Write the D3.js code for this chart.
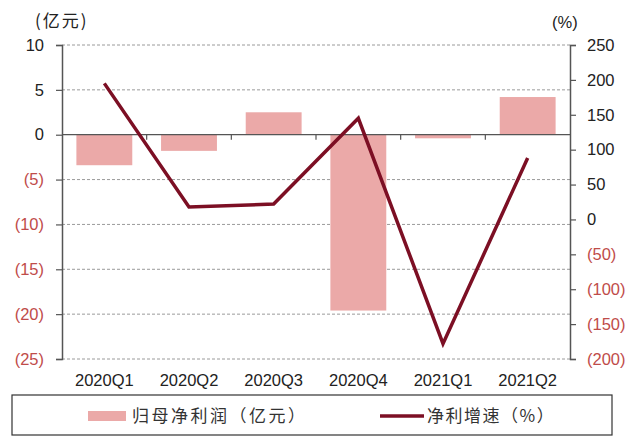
<!DOCTYPE html>
<html>
<head>
<meta charset="utf-8">
<script src="https://cdn.jsdelivr.net/npm/d3@7/dist/d3.min.js"></script>
<style>
  html, body { margin: 0; padding: 0; background: #fff; }
  svg { display: block; }
</style>
</head>
<body>
<svg id="chart" width="639" height="441"></svg>
<script>
// Quarterly data
const categories = ["2020Q1", "2020Q2", "2020Q3", "2020Q4", "2021Q1", "2021Q2"];
const netProfit = [-3.4, -1.8, 2.5, -19.6, -0.4, 4.2];      // 归母净利润 (亿元)
const growthRate = [195, 18, 22, 145, -178, 88];            // 净利增速 (%)
const leftTicks = [10, 5, 0, -5, -10, -15, -20, -25];
const rightTicks = [250, 200, 150, 100, 50, 0, -50, -100, -150, -200];
const seriesNames = ["归母净利润（亿元）", "净利增速（%）"];

const barColor = "#eba9a8";
const lineColor = "#7c0f24";
const negColor = "#bf4c4a";
const latin = "'Liberation Sans', Arial, sans-serif";
const cjk = "'Noto Sans CJK SC', sans-serif";

const svg = d3.select("#chart");
const plotL = 62, plotR = 570, plotT = 45, plotB = 359;

const x = d3.scaleBand().domain(categories).range([plotL, plotR]).paddingInner(0.34).paddingOuter(0.17);
const xTicks = d3.scaleBand().domain(categories).range([plotL, plotR]);
const yL = d3.scaleLinear().domain([-25, 10]).range([plotB, plotT]);
const yR = d3.scaleLinear().domain([-200, 250]).range([plotB, plotT]);

const fmt = v => v < 0 ? `(${Math.abs(v)})` : `${v}`;

// dashed gridlines
svg.append("g").selectAll("line").data(leftTicks.filter(v => v !== 0)).join("line")
  .attr("x1", plotL).attr("x2", plotR)
  .attr("y1", d => yL(d)).attr("y2", d => yL(d))
  .attr("stroke", "#9a9a9a").attr("stroke-width", 1).attr("stroke-dasharray", "3,2");

// bars
svg.append("g").selectAll("rect").data(netProfit).join("rect")
  .attr("x", (d, i) => x(categories[i]))
  .attr("width", x.bandwidth())
  .attr("y", d => yL(Math.max(0, d)))
  .attr("height", d => Math.abs(yL(d) - yL(0)))
  .attr("fill", barColor);

// zero baseline with category ticks
svg.append("line").attr("x1", plotL).attr("x2", plotR)
  .attr("y1", yL(0)).attr("y2", yL(0)).attr("stroke", "#555").attr("stroke-width", 1.2);
svg.append("g").selectAll("line").data(categories.slice(1)).join("line")
  .attr("x1", d => xTicks(d)).attr("x2", d => xTicks(d))
  .attr("y1", yL(0)).attr("y2", yL(0) + 5)
  .attr("stroke", "#555").attr("stroke-width", 1.2);

// left axis
const gL = svg.append("g").attr("transform", `translate(${plotL},0)`)
  .call(d3.axisLeft(yL).tickValues(leftTicks).tickSize(6).tickPadding(12).tickFormat(fmt));
gL.select(".domain").attr("stroke", "#555").attr("stroke-width", 1.5);
gL.selectAll(".tick line").attr("stroke", "#555").attr("stroke-width", 1.2);
gL.selectAll(".tick text").attr("font-family", latin).attr("font-size", 16.5)
  .attr("fill", d => d < 0 ? negColor : "#222");

// right axis
const gR = svg.append("g").attr("transform", `translate(${plotR},0)`)
  .call(d3.axisRight(yR).tickValues(rightTicks).tickSize(6).tickPadding(11).tickFormat(fmt));
gR.select(".domain").attr("stroke", "#555").attr("stroke-width", 1.5);
gR.selectAll(".tick line").attr("stroke", "#555").attr("stroke-width", 1.2);
gR.selectAll(".tick text").attr("font-family", latin).attr("font-size", 16.5)
  .attr("fill", d => d < 0 ? negColor : "#222");

// category labels
svg.append("g").selectAll("text").data(categories).join("text")
  .attr("x", d => xTicks(d) + xTicks.bandwidth() / 2).attr("y", 386)
  .attr("text-anchor", "middle").attr("font-family", latin).attr("font-size", 16.5).attr("fill", "#222")
  .text(d => d);

// unit labels
svg.append("text").attr("x", 35).attr("y", 27).attr("font-family", cjk).attr("font-size", 17)
  .attr("letter-spacing", 2).attr("fill", "#222").text("(亿元)");
svg.append("text").attr("x", 552).attr("y", 28).attr("font-family", latin).attr("font-size", 16.5)
  .attr("fill", "#222").text("(%)");

// growth line
const line = d3.line().x((d, i) => xTicks(categories[i]) + xTicks.bandwidth() / 2).y(d => yR(d));
svg.append("path").datum(growthRate).attr("d", line)
  .attr("fill", "none").attr("stroke", lineColor).attr("stroke-width", 3.5).attr("stroke-linejoin", "miter");

// legend
svg.append("rect").attr("x", 12).attr("y", 395).attr("width", 600).attr("height", 40)
  .attr("fill", "none").attr("stroke", "#333").attr("stroke-width", 1.2);
svg.append("rect").attr("x", 88).attr("y", 411).attr("width", 38).attr("height", 10).attr("fill", barColor);
svg.append("text").attr("x", 132).attr("y", 422).attr("font-family", cjk).attr("font-size", 17)
  .attr("letter-spacing", 2.5).attr("fill", "#333").text(seriesNames[0]);
svg.append("line").attr("x1", 380).attr("x2", 424).attr("y1", 416).attr("y2", 416)
  .attr("stroke", lineColor).attr("stroke-width", 3.5);
svg.append("text").attr("x", 427).attr("y", 422).attr("font-family", cjk).attr("font-size", 17)
  .attr("letter-spacing", 1.5).attr("fill", "#333").text(seriesNames[1]);
</script>
</body>
</html>
